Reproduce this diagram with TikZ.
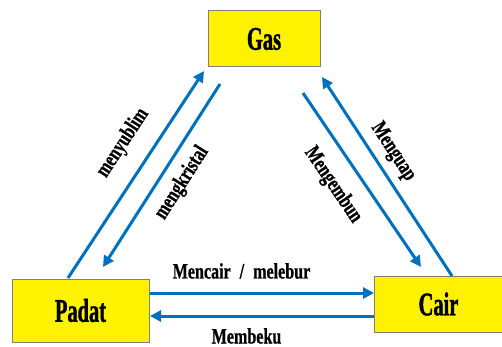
\documentclass[tikz,border=0pt]{standalone}
\usepackage{fontspec}
\setmainfont{Liberation Serif}
\newfontfamily\boxfont[FakeStretch=0.62,FakeBold=1.2]{Liberation Serif Bold}
\newfontfamily\labfont[FakeStretch=0.73,FakeBold=0.8]{Liberation Serif Bold}
\usetikzlibrary{arrows.meta}
\definecolor{arrblue}{HTML}{0070C0}
\definecolor{boxgray}{HTML}{7F7F7F}
\tikzset{
  statebox/.style={draw=boxgray, line width=1pt, fill=yellow, inner sep=0pt,
    font=\boxfont\fontsize{33}{36}\selectfont},
  flow/.style={draw=arrblue, line width=3pt, -{Triangle[length=11pt,width=11pt]}},
  flowlab/.style={font=\labfont\fontsize{22}{24}\selectfont, inner sep=0pt}
}
\begin{document}
\begin{tikzpicture}[x=1pt,y=-1pt]
\useasboundingbox (0,0) rectangle (502,347);
\node[statebox, minimum width=112pt, minimum height=56pt] (gas) at (264,39) {Gas};
\node[statebox, minimum width=137pt, minimum height=63pt] (padat) at (80.5,310.5) {Padat};
\node[statebox, minimum width=129pt, minimum height=56pt] (cair) at (438.5,304) {Cair};
% endpoints
\coordinate (a1) at (68,278);
\coordinate (a2) at (204,71);
\coordinate (b1) at (220,84);
\coordinate (b2) at (103,267);
\coordinate (c1) at (303,93);
\coordinate (c2) at (421,267);
\coordinate (d1) at (452,276);
\coordinate (d2) at (322,77);
\coordinate (e1) at (149.5,293);
\coordinate (e2) at (374,293);
\coordinate (f1) at (374,316);
\coordinate (f2) at (150,316);
\draw[flow] (a1) -- (a2);
\draw[flow] (b1) -- (b2);
\draw[flow] (c1) -- (c2);
\draw[flow] (d1) -- (d2);
\draw[flow] (e1) -- (e2);
\draw[flow] (f1) -- (f2);
\node[flowlab, rotate=56.7] (lmenyublim) at (123,143) {menyublim};
\node[flowlab, rotate=57.4] (lmengkristal) at (182,183) {mengkristal};
\node[flowlab, rotate=-55.9] (lmengembun) at (333,185) {Mengembun};
\node[flowlab, rotate=-56.8] (lmenguap) at (393,152) {Menguap};
\node[flowlab] (lmencair) at (241.5,271) {Mencair\hspace{9pt}/\hspace{9pt}melebur};
\node[flowlab] (lmembeku) at (246.5,336) {Membeku};
\end{tikzpicture}
\end{document}
